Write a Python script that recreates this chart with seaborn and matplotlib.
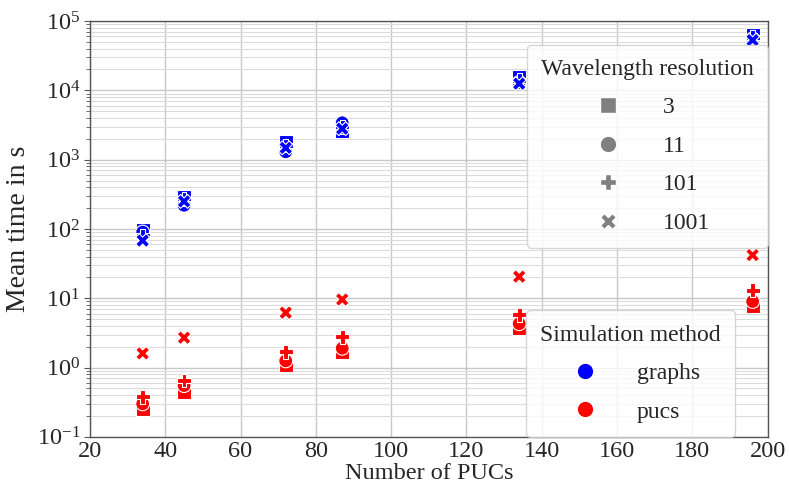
import matplotlib
matplotlib.use("Agg")
import matplotlib.pyplot as plt
import seaborn as sns
import pandas as pd
import numpy as np
from matplotlib.lines import Line2D

# ---- data ----
x_pucs = [34, 45, 72, 87, 134, 196]
resolutions = ["3", "11", "101", "1001"]

graphs_res3 = [98, 290, 1800, 2600, 15500, 62000]
graphs_res11 = [90, 220, 1300, 3400, 13000, 55000]
graphs_res101 = [80, 270, 1600, 3000, 14000, 58000]
graphs_res1001 = [68, 250, 1480, 2800, 12500, 53000]

pucs_res3 = [0.25, 0.45, 1.1, 1.65, 3.7, 7.8]
pucs_res11 = [0.3, 0.55, 1.25, 1.9, 4.3, 9.0]
pucs_res101 = [0.38, 0.65, 1.7, 2.8, 5.8, 13.0]
pucs_res1001 = [1.6, 2.7, 6.2, 9.6, 20.5, 42.0]

methods = ["graphs", "pucs"]
series = {
    ("graphs", "3"): graphs_res3, ("graphs", "11"): graphs_res11,
    ("graphs", "101"): graphs_res101, ("graphs", "1001"): graphs_res1001,
    ("pucs", "3"): pucs_res3, ("pucs", "11"): pucs_res11,
    ("pucs", "101"): pucs_res101, ("pucs", "1001"): pucs_res1001,
}
rows = []
for (m, r), vals in series.items():
    for xv, yv in zip(x_pucs, vals):
        rows.append({"Number of PUCs": xv, "Mean time in s": yv,
                     "Simulation method": m, "Wavelength resolution": r})
df = pd.DataFrame(rows)

# ---- style ----
sns.set_theme(style="whitegrid")
plt.rcParams["font.family"] = ["Liberation Serif", "DejaVu Serif"]
plt.rcParams["mathtext.fontset"] = "stix"
FS = 17.5
LEGFS = 17

palette = {"graphs": "#0000ff", "pucs": "#ff0000"}
markers = {"3": "s", "11": "o", "101": "P", "1001": "X"}

fig = plt.figure(figsize=(7.89, 5.01), dpi=100)
ax = fig.add_axes([0.114, 0.128, 0.859, 0.830])

sns.scatterplot(data=df, x="Number of PUCs", y="Mean time in s",
                hue="Simulation method", style="Wavelength resolution",
                palette=palette, markers=markers, s=100, legend=False, ax=ax,
                hue_order=methods, style_order=resolutions, zorder=3,
                edgecolor="white", linewidth=0.8)

ax.set_yscale("log")
ax.set_ylim(1e-1, 1e5)
ax.set_xlim(20, 200)
ax.set_xticks(np.arange(20, 201, 20))
ax.set_yticks([10.0**k for k in range(-1, 6)])
ax.yaxis.set_minor_locator(matplotlib.ticker.LogLocator(base=10, subs=np.arange(2, 10), numticks=100))
ax.grid(True, which="major", color="#c8c8c8", linewidth=1.0)
ax.grid(True, which="minor", axis="y", color="#dcdcdc", linewidth=0.8)
ax.tick_params(axis="both", which="major", labelsize=FS, length=0, pad=3)
ax.tick_params(axis="y", which="minor", left=True, length=3, width=0.6, color="#555555")
ax.tick_params(axis="y", which="major", left=True, length=4, width=0.8, color="#555555")
ax.set_xlabel("Number of PUCs", fontsize=17.5, labelpad=1)
ax.set_ylabel("Mean time in s", fontsize=20, labelpad=4)
for sp in ax.spines.values():
    sp.set_color("#555555")
    sp.set_linewidth(1.0)

# ---- legends ----
res_handles = [Line2D([], [], linestyle="", marker=markers[r], color="gray",
                      markeredgecolor="white", markersize=12) for r in resolutions]
leg1 = ax.legend(res_handles, resolutions, title="Wavelength resolution",
                 loc="upper right", bbox_to_anchor=(1.0, 0.943),
                 fontsize=LEGFS, title_fontsize=LEGFS, borderaxespad=0,
                 labelspacing=0.72, handletextpad=1.3, borderpad=0.6,
                 frameon=True, framealpha=0.8)
ax.add_artist(leg1)

met_handles = [Line2D([], [], linestyle="", marker="o", color=palette[m],
                      markeredgecolor="white", markersize=12) for m in methods]
leg2 = ax.legend(met_handles, methods, title="Simulation method",
                 loc="lower right", bbox_to_anchor=(0.952, 0.0),
                 fontsize=LEGFS, title_fontsize=LEGFS, borderaxespad=0,
                 labelspacing=0.72, handletextpad=1.2, borderpad=0.6,
                 frameon=True, framealpha=0.8)

fig.savefig("out.png", dpi=100)
